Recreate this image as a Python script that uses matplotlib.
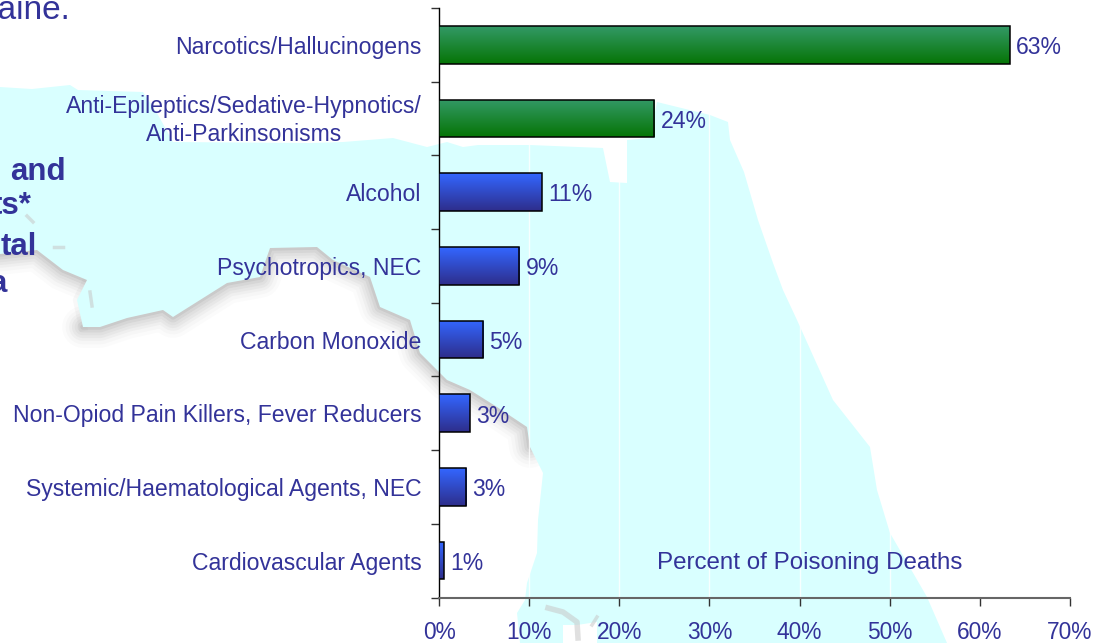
import matplotlib
matplotlib.use("Agg")
import matplotlib.pyplot as plt
import numpy as np
from matplotlib.colors import LinearSegmentedColormap
from matplotlib.patches import Polygon
from matplotlib.transforms import ScaledTranslation

plt.rcParams['font.family'] = ['Liberation Sans', 'DejaVu Sans']

categories = ["Narcotics/Hallucinogens",
              "Anti-Epileptics/Sedative-Hypnotics/\nAnti-Parkinsonisms",
              "Alcohol",
              "Psychotropics, NEC",
              "Carbon Monoxide",
              "Non-Opiod Pain Killers, Fever Reducers",
              "Systemic/Haematological Agents, NEC",
              "Cardiovascular Agents"]
values = [63.3, 23.9, 11.4, 8.9, 4.9, 3.4, 3.0, 0.55]
value_labels = ["63%", "24%", "11%", "9%", "5%", "3%", "3%", "1%"]
bar_groups = ["green", "green", "blue", "blue", "blue", "blue", "blue", "blue"]
x_ticks = [0, 10, 20, 30, 40, 50, 60, 70]
x_tick_labels = ["0%", "10%", "20%", "30%", "40%", "50%", "60%", "70%"]

TEXT = "#333399"
CYAN = "#d9ffff"
cmaps = {
    "green": LinearSegmentedColormap.from_list("g", ["#339966", "#067506"]),
    "blue": LinearSegmentedColormap.from_list("b", ["#3366ff", "#2e2e8c"]),
}

# background map, in picture pixels
top_edge = [(0, 87), (32, 89), (70, 85), (78, 90), (143, 92), (157, 113), (173, 142),
            (310, 143), (343, 142), (393, 138), (427, 147), (447, 142), (463, 147),
            (478, 145), (530, 145), (603, 148), (610, 182), (627, 183), (627, 140),
            (650, 138), (657, 102), (710, 115), (728, 122), (730, 140), (744, 172),
            (758, 220), (773, 263), (783, 290), (797, 320), (833, 400),
            (870, 447), (877, 490), (890, 533), (927, 597), (947, 643)]
coast_west = [(0, 254), (37, 250), (63, 270), (87, 280)]
coast_bend = [(87, 280), (77, 300), (83, 327)]
coast_mid = [(83, 327), (100, 327), (127, 318), (163, 310), (173, 317), (200, 300),
             (227, 283), (260, 277), (270, 248), (317, 247), (333, 260), (370, 277),
             (380, 307), (410, 320), (420, 353), (437, 370), (447, 380), (470, 390),
             (497, 407), (527, 427), (530, 447)]
coast_end = [(530, 447), (543, 473), (538, 520), (537, 553), (527, 583), (525, 600),
             (517, 613), (520, 643)]
island = [(548, 608), (563, 612), (577, 622), (578, 638)]
islets = [[(27, 216), (33, 222)], [(54, 247), (63, 247)], [(90, 292), (92, 306)],
          [(592, 625), (597, 617)]]

fig = plt.figure(figsize=(11.11, 6.43), dpi=100)

bg = fig.add_axes([0, 0, 1, 1], zorder=0)
bg.set_xlim(0, 1111)
bg.set_ylim(643, 0)
bg.axis("off")

# soft grey shore: wide faint strokes, the cyan sits on top of their inner half
for part in [coast_west, coast_mid]:
    xs, ys = zip(*part)
    for lw, a in [(4, 0.12), (8, 0.1), (12, 0.07), (16, 0.06), (20, 0.05), (25, 0.04), (30, 0.03)]:
        bg.plot(xs, ys, color="#808080", lw=lw, alpha=a, solid_capstyle="round", zorder=1)
xs, ys = zip(*coast_bend)
bg.plot(xs, ys, color="#808080", lw=6, alpha=0.05, zorder=1)

outline = top_edge + coast_end[::-1] + coast_mid[::-1][1:] + coast_bend[::-1][1:] + coast_west[::-1][1:]
bg.add_patch(Polygon(outline, closed=True, facecolor=CYAN, edgecolor="none", zorder=2))
bg.add_patch(Polygon([(563, 625), (577, 625), (597, 622), (597, 643), (563, 643)], closed=True,
                     facecolor="white", edgecolor="none", zorder=3))
bg.plot(*zip(*island), color="#c8c8c8", lw=4, alpha=0.55, zorder=4)
for seg in islets:
    bg.plot(*zip(*seg), color="#c8c8c8", lw=2.5, alpha=0.55, zorder=4)

# bold title cut off by the slide edge
for txt, x, y in [("and", 66, 172), ("ts*", 32, 206), ("tal", 37, 247), ("a", 7, 284)]:
    bg.text(x, y, txt, color=TEXT, fontsize=22.5, fontweight="bold", ha="right", va="center", zorder=5)
bg.text(70, 19, "caine.", color=TEXT, fontsize=24, ha="right", va="baseline", zorder=5)

ax = fig.add_axes([439 / 1111, 1 - 597.5 / 643, (1070 - 439) / 1111, (597.5 - 8) / 643], zorder=1)
ax.patch.set_alpha(0)
y_pos = np.arange(len(categories))

ax.grid(axis="x", color="white", lw=1, alpha=0.8, zorder=1)
ax.set_axisbelow(True)

bars = ax.barh(y_pos, values, height=0.51, facecolor="none", edgecolor="black", lw=1.1, zorder=4)
gradient = np.linspace(0, 1, 64).reshape(-1, 1)
for bar, group in zip(bars, bar_groups):
    im = ax.imshow(gradient, cmap=cmaps[group], aspect="auto", zorder=3,
                   extent=[0, bar.get_width(), bar.get_y() + bar.get_height(), bar.get_y()])
    im.set_clip_path(bar)
ax.set_xlim(0, 70)
ax.set_ylim(len(categories) - 0.5, -0.5)

for y, v, lab in zip(y_pos, values, value_labels):
    ax.annotate(lab, (v, y), xytext=(4.5, -2), textcoords="offset points", color=TEXT,
                fontsize=16.6, va="center", ha="left", zorder=5)

ax.text(41.1, 7.03, "Percent of Poisoning Deaths", color=TEXT, fontsize=17.4, ha="center", va="center")

ax.set_xticks(x_ticks)
ax.set_xticklabels(x_tick_labels, color=TEXT, fontsize=16.4)
ax.set_yticks(y_pos)
ax.set_yticklabels(categories, color=TEXT, fontsize=16.6, multialignment="center", linespacing=1.3)
ax.set_yticks(np.arange(len(categories) + 1) - 0.5, minor=True)
ax.tick_params(axis="y", which="major", length=0, pad=12.5)
ax.tick_params(axis="y", which="minor", length=6, width=1, color="#333333")
ax.tick_params(axis="x", length=5.5, width=1, color="#333333", pad=11.5)

# the two-line label sits a little high in the reference
two_line = ax.get_yticklabels()[1]
two_line.set_transform(two_line.get_transform() + ScaledTranslation(0, 2.5 / 72, fig.dpi_scale_trans))

ax.spines["top"].set_visible(False)
ax.spines["right"].set_visible(False)
ax.spines["left"].set_color("black")
ax.spines["left"].set_linewidth(1)
ax.spines["bottom"].set_color("#666666")
ax.spines["bottom"].set_linewidth(1.5)

fig.savefig("out.png", dpi=100)
